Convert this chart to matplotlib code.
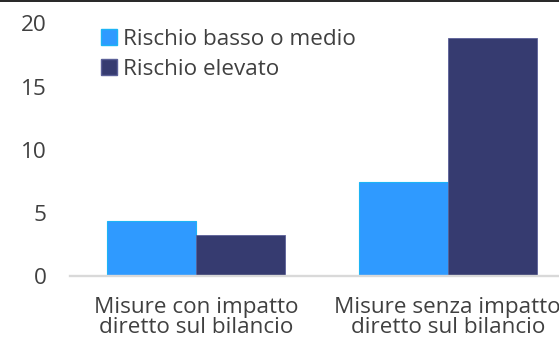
import matplotlib
matplotlib.use('Agg')
import matplotlib.pyplot as plt
import numpy as np
from matplotlib.patches import Patch
from matplotlib.lines import Line2D

categories = ['Misure con impatto\ndiretto sul bilancio',
              'Misure senza impatto\ndiretto sul bilancio']
rischio_basso = [4.40, 7.43]
rischio_elevato = [3.26, 18.81]
series_names = ['Rischio basso o medio', 'Rischio elevato']
y_ticks = [0, 5, 10, 15, 20]

col_light = '#2F9AFF'
col_dark = '#363B70'
text_col = '#404040'
fs = 16.2

plt.rcParams['font.family'] = ['Open Sans', 'DejaVu Sans']

fig = plt.figure(figsize=(5.59, 3.40), dpi=100)
ax = fig.add_axes([70 / 559, 1 - 276.3 / 340, 2 * 251.8 / 559, 253 / 340])

x = np.arange(len(categories))
w = 0.353
ax.bar(x - w / 2, rischio_basso, width=w, color=col_light,
       edgecolor='#1DB4F5', linewidth=0.8)
ax.bar(x + w / 2, rischio_elevato, width=w, color=col_dark,
       edgecolor='#5B6098', linewidth=0.6)

ax.set_xlim(-0.5, 1.5)
ax.set_ylim(0, 20)
ax.set_yticks(y_ticks)
ax.set_yticklabels([str(t) for t in y_ticks])
ax.set_xticks(x)
ax.set_xticklabels(categories, linespacing=0.9)

for s in ['top', 'right', 'left']:
    ax.spines[s].set_visible(False)
ax.spines['bottom'].set_color('#D9D9D9')
ax.spines['bottom'].set_linewidth(1.7)
ax.tick_params(axis='both', length=0, labelsize=fs, colors=text_col)
ax.tick_params(axis='y', pad=17)
ax.tick_params(axis='x', pad=15)

handles = [Patch(facecolor=col_light, edgecolor='#1DB4F5'),
           Patch(facecolor=col_dark, edgecolor='#5B6098')]
leg = fig.legend(handles, series_names, loc='upper left',
                 bbox_to_anchor=(92 / 559, 1 - 20 / 340), frameon=False,
                 fontsize=fs, handlelength=0.72, handleheight=0.72,
                 handletextpad=0.27, labelspacing=0.38, borderaxespad=0)
for t in leg.get_texts():
    t.set_color(text_col)

# thin frame line along the top edge
fig.add_artist(Line2D([0, 1], [0.998, 0.998], transform=fig.transFigure,
                      color='black', linewidth=1.2))

fig.savefig('out.png', dpi=100)
